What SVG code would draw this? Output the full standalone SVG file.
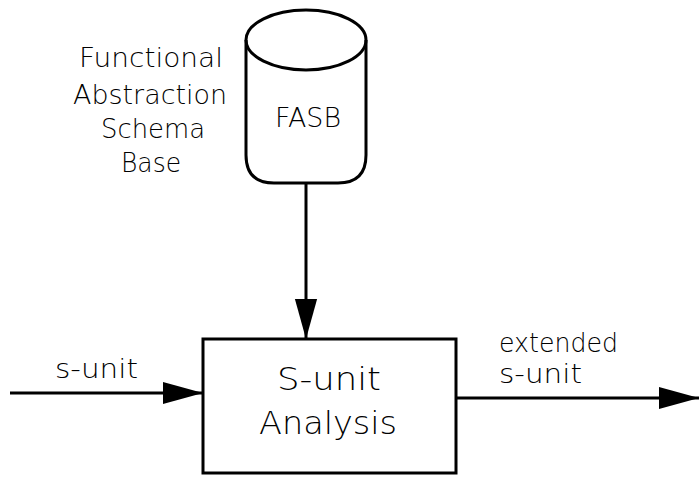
<svg xmlns="http://www.w3.org/2000/svg" width="699" height="484" viewBox="0 0 699 484">
<style>
text{font-family:"DejaVu Sans","Liberation Sans",sans-serif;fill:#000;font-weight:200}
.lbl{font-size:26px}
.big{font-size:32px}
.ln{stroke:#000;stroke-width:3;fill:none}
</style>
<defs>
<marker id="ah" markerUnits="userSpaceOnUse" markerWidth="40" markerHeight="24" refX="36" refY="10" orient="auto" viewBox="0 0 36 20">
<path d="M0,0 L36,10 L0,20 Z" fill="#000"/>
</marker>
</defs>
<rect width="699" height="484" fill="#fff"/>
<g id="fasb">
<path class="ln" d="M246,40 L246,155 Q246,183 274,183 L338,183 Q366,183 366,155 L366,40"/>
<ellipse class="ln" cx="306" cy="40" rx="60" ry="30"/>
<text x="308" y="127" text-anchor="middle" class="lbl" textLength="66" lengthAdjust="spacingAndGlyphs">FASB</text>
</g>
<g id="fasb-label">
<text x="151" y="67" text-anchor="middle" class="lbl" textLength="144" lengthAdjust="spacingAndGlyphs">Functional</text>
<text x="150" y="104" text-anchor="middle" class="lbl" textLength="154" lengthAdjust="spacingAndGlyphs">Abstraction</text>
<text x="153" y="138" text-anchor="middle" class="lbl" textLength="104" lengthAdjust="spacingAndGlyphs">Schema</text>
<text x="151" y="172" text-anchor="middle" class="lbl" textLength="60" lengthAdjust="spacingAndGlyphs">Base</text>
</g>
<g id="analysis">
<rect class="ln" x="203" y="339" width="253" height="134"/>
<text x="329" y="390" text-anchor="middle" class="big" textLength="104" lengthAdjust="spacingAndGlyphs">S-unit</text>
<text x="328" y="434" text-anchor="middle" class="big" textLength="138" lengthAdjust="spacingAndGlyphs">Analysis</text>
</g>
<g id="connectors">
<line class="ln" x1="306" y1="183" x2="306" y2="339" marker-end="url(#ah)"/>
<line class="ln" x1="10" y1="393" x2="203" y2="393" marker-end="url(#ah)"/>
<line class="ln" x1="456" y1="398" x2="699" y2="398" marker-end="url(#ah)"/>
</g>
<g id="edge-labels">
<text x="55" y="378" class="lbl" textLength="83" lengthAdjust="spacingAndGlyphs">s-unit</text>
<text x="499" y="352" class="lbl" textLength="119" lengthAdjust="spacingAndGlyphs">extended</text>
<text x="499" y="383" class="lbl" textLength="83" lengthAdjust="spacingAndGlyphs">s-unit</text>
</g>
</svg>
